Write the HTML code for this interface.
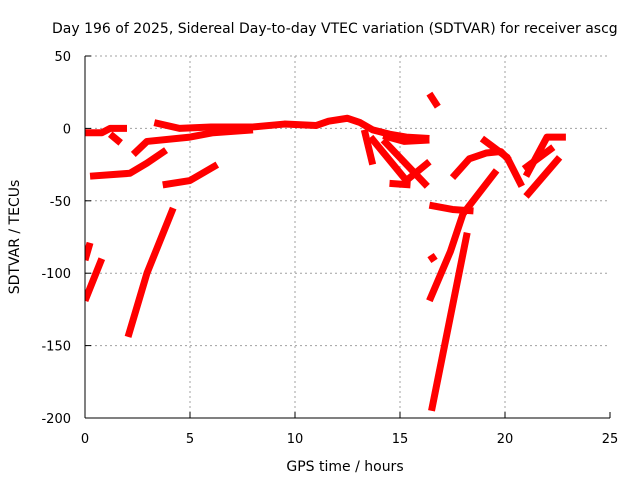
<!DOCTYPE html>
<html><head><meta charset="utf-8"><style>
body{margin:0;background:#fff}
svg{display:block;font-family:"DejaVu Sans","Liberation Sans",sans-serif}
</style></head><body>
<svg id="c" width="640" height="480">
<text x="52" y="33" font-size="14">Day 196 of 2025, Sidereal Day-to-day VTEC variation (SDTVAR) for receiver ascg</text>
<text x="345" y="471" font-size="14" text-anchor="middle">GPS time / hours</text>
<text transform="translate(19,237) rotate(-90)" font-size="14" text-anchor="middle">SDTVAR / TECUs</text>
<g id="grid"></g><g id="ticks"></g>
<clipPath id="pc"><rect x="85" y="56" width="525" height="362"/></clipPath>
<g id="data" clip-path="url(#pc)"></g>
<line x1="85" y1="56" x2="85" y2="418" stroke="#000"/>
<line x1="85" y1="418" x2="610" y2="418" stroke="#000"/>
</svg>
<script>
const xTicks=[0,5,10,15,20,25];
const yTicks=[50,0,-50,-100,-150,-200];
const track1=[[0,-3],[0.8,-3],[1.2,0],[2,0]];
const track2=[[1.2,-4],[1.7,-10]];
const track3=[[0.24,-33],[2.14,-31],[2.95,-24],[3.86,-15]];
const track4=[[2.3,-18],[2.95,-9],[5,-6],[6.1,-3],[8,-1]];
const track5=[[3.3,4],[4.5,0],[6,1],[8,1],[9.5,3],[11,2],[11.6,5],[12.5,7],[13.1,4],[13.7,-1],[14.5,-4],[15.3,-6],[16.4,-7]];
const track6=[[3.7,-39],[5,-36],[6.3,-25]];
const track7=[[2.05,-144],[2.95,-100],[4.2,-55]];
const track8=[[0,-91],[0.24,-79]];
const track9=[[0,-119],[0.8,-90]];
const track10=[[13.3,-1],[13.7,-25]];
const track11=[[13.6,-6],[15.3,-36],[16.4,-23]];
const track12=[[14.2,-8],[16.3,-40]];
const track13=[[14.5,-38],[15.5,-39]];
const track14=[[14.2,-5],[15.2,-9],[16.4,-8]];
const track15=[[16.4,24],[16.8,15]];
const track16=[[16.4,-53],[17.5,-56],[18.5,-57]];
const track17=[[16.4,-91],[16.7,-88]];
const track18=[[16.4,-119],[17.4,-85],[18,-59],[19.6,-29]];
const track19=[[16.5,-195],[18.2,-72]];
const track20=[[17.5,-34],[18.3,-21],[19.1,-17],[19.8,-16],[20.2,-22]];
const track21=[[18.9,-7],[20.1,-20],[20.8,-40]];
const track22=[[21,-47],[22.6,-20]];
const track23=[[21,-33],[22,-6],[22.9,-6]];
const track24=[[20.9,-28],[22.3,-13]];
const tracks=[track1,track2,track3,track4,track5,track6,track7,track8,track9,track10,track11,track12,track13,track14,track15,track16,track17,track18,track19,track20,track21,track22,track23,track24];
const X=v=>85+v*21, Y=v=>128.4-v*1.448;
const NS="http://www.w3.org/2000/svg";
const grid=document.getElementById('grid'),ticks=document.getElementById('ticks'),data=document.getElementById('data');
function mk(t,a,p){const e=document.createElementNS(NS,t);for(const k in a)e.setAttribute(k,a[k]);p.appendChild(e);return e;}
xTicks.forEach(v=>{
 if(v>0&&v<25){const g=mk('line',{x1:X(v),x2:X(v),y1:56,y2:418,stroke:'#a0a0a0','stroke-dasharray':'2,3'},grid);
 
 }
 const t=mk('line',{x1:X(v),x2:X(v),y1:418,y2:412,stroke:'#000'},ticks);
 
 
 const l=mk('text',{x:X(v),y:443,'font-size':13,'text-anchor':'middle'},ticks);l.textContent=v;
 
 
});
yTicks.forEach(v=>{
 if(v>-200){const g=mk('line',{x1:85,x2:610,y1:Y(v),y2:Y(v),stroke:'#a0a0a0','stroke-dasharray':'2,3'},grid);
 
 }
 const t=mk('line',{x1:85,x2:91,y1:Y(v),y2:Y(v),stroke:'#000'},ticks);
 
 
 const l=mk('text',{x:71,y:Y(v)+5,'font-size':13,'text-anchor':'end'},ticks);l.textContent=v;
 
 
});
tracks.forEach(tr=>{
 const p=mk('polyline',{points:tr.map(d=>X(d[0])+','+Y(d[1])).join(' '),fill:'none',stroke:'#f00','stroke-width':7,'stroke-linejoin':'round'},data);
 
 
});
</script>
</body></html>
